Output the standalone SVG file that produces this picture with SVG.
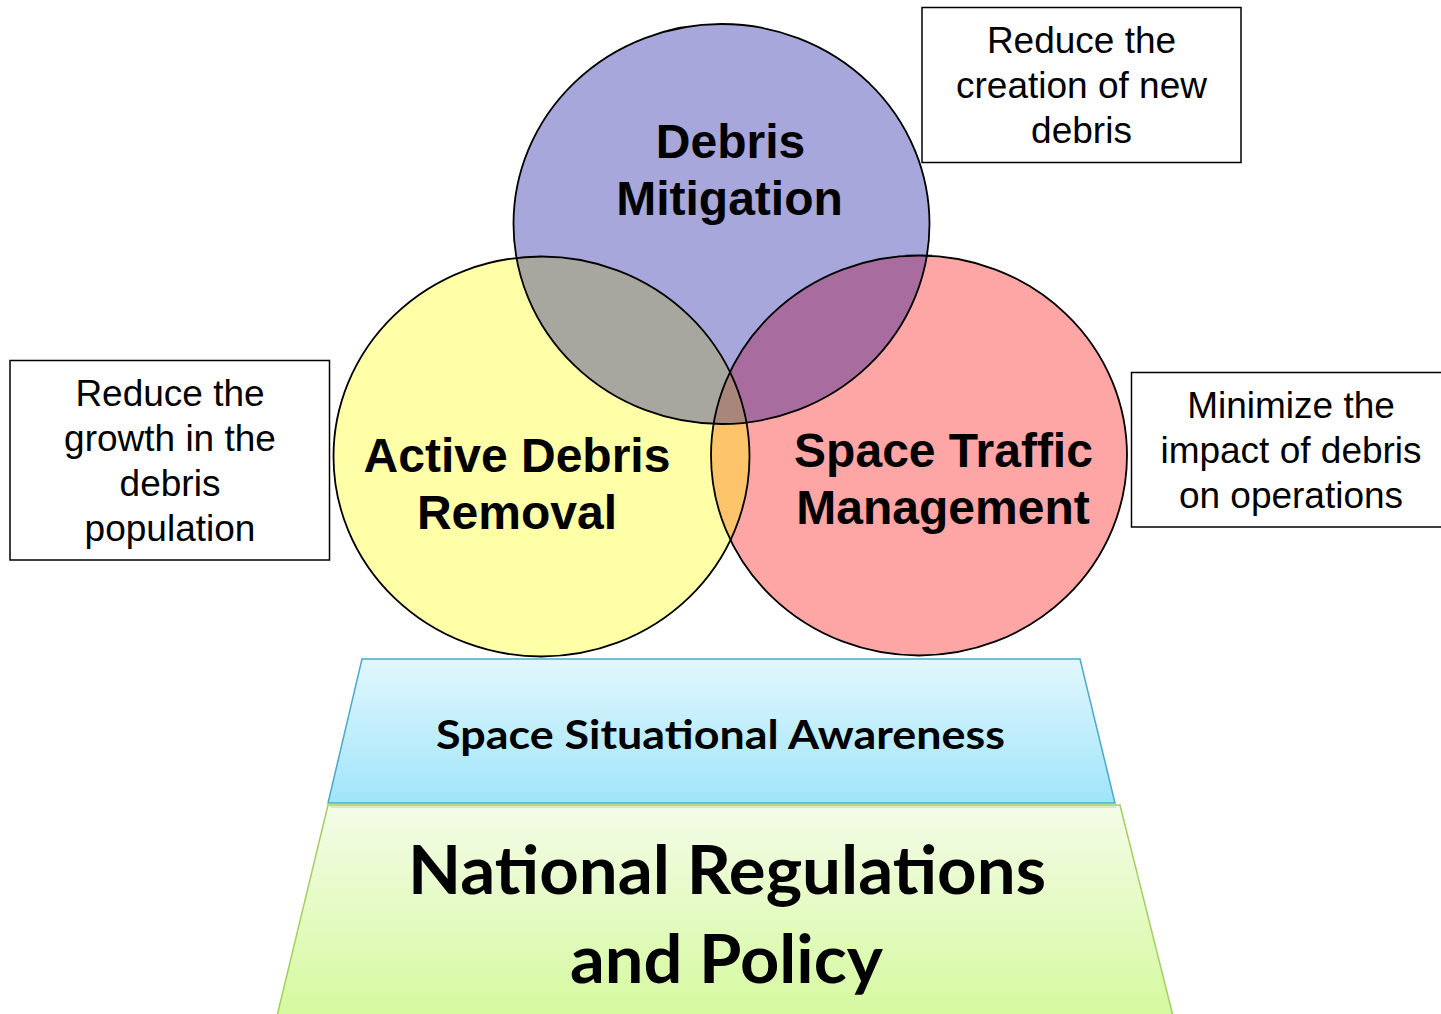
<svg xmlns="http://www.w3.org/2000/svg" width="1441" height="1014" viewBox="0 0 1441 1014">
  <style>
    .outline { fill: none; stroke: #000; stroke-width: 1.8; }
    .ctext { font-family: "Liberation Sans", Arial, sans-serif; font-weight: bold; font-size: 48px; fill: #000; text-anchor: middle; }
    .btext { font-family: "Liberation Sans", Arial, sans-serif; font-size: 37px; fill: #000; text-anchor: middle; }
    .box { fill: #fff; stroke: #000; stroke-width: 1.5; }
    .ptext { font-family: Lato, "Open Sans", sans-serif; font-weight: bold; fill: #000; text-anchor: middle; }
  </style>
  <defs>
    <clipPath id="clipBlue"><ellipse cx="721.5" cy="224" rx="208" ry="200"/></clipPath>
    <clipPath id="clipRed"><ellipse cx="919" cy="455.5" rx="208" ry="200"/></clipPath>
    <linearGradient id="gBlue" x1="0" y1="0" x2="0" y2="1">
      <stop offset="0" stop-color="#e2f7fd"/>
      <stop offset="1" stop-color="#a0e5fb"/>
    </linearGradient>
    <linearGradient id="gGreen" x1="0" y1="0" x2="0" y2="1">
      <stop offset="0" stop-color="#f4fce8"/>
      <stop offset="1" stop-color="#d5f99e"/>
    </linearGradient>
  </defs>
  <rect width="1441" height="1014" fill="#fff"/>

  <!-- Base trapezoids -->
  <g id="national-regulations">
    <polygon points="328,805 1120,805 1173,1016 277,1016" fill="url(#gGreen)" stroke="#a3cf5e" stroke-width="1.5"/>
    <text class="ptext" x="727" y="894" font-size="67" textLength="638" lengthAdjust="spacingAndGlyphs">National Regulations</text>
    <text class="ptext" x="726.5" y="983" font-size="67" textLength="313" lengthAdjust="spacingAndGlyphs">and Policy</text>
  </g>
  <g id="space-situational-awareness">
    <polygon points="330,806 1117,806 1116,808 331,808" fill="#c8d8c0" opacity="0.6"/>
    <polygon points="362,659 1080,659 1115,803 328,803" fill="url(#gBlue)" stroke="#4aaac8" stroke-width="1.5"/>
    <text class="ptext" x="720.5" y="749" font-size="40" textLength="569" lengthAdjust="spacingAndGlyphs">Space Situational Awareness</text>
  </g>

  <!-- Venn circles -->
  <g id="venn-fills">
    <ellipse cx="541.5" cy="456.5" rx="208" ry="200" fill="#ffffa7"/>
    <ellipse cx="919" cy="455.5" rx="208" ry="200" fill="#fea6a6"/>
    <ellipse cx="721.5" cy="224" rx="208" ry="200" fill="#a7a7db"/>
    <ellipse cx="541.5" cy="456.5" rx="208" ry="200" fill="#a7a7a0" clip-path="url(#clipBlue)"/>
    <ellipse cx="919" cy="455.5" rx="208" ry="200" fill="#a86c9f" clip-path="url(#clipBlue)"/>
    <ellipse cx="541.5" cy="456.5" rx="208" ry="200" fill="#fdc46c" clip-path="url(#clipRed)"/>
    <g clip-path="url(#clipBlue)">
      <ellipse cx="541.5" cy="456.5" rx="208" ry="200" fill="#a8867b" clip-path="url(#clipRed)"/>
    </g>
  </g>

  <g id="active-debris-removal">
    <ellipse class="outline" cx="541.5" cy="456.5" rx="208" ry="200"/>
    <text class="ctext" x="517" y="472">Active Debris</text>
    <text class="ctext" x="517" y="529">Removal</text>
  </g>
  <g id="space-traffic-management">
    <ellipse class="outline" cx="919" cy="455.5" rx="208" ry="200"/>
    <text class="ctext" x="943.5" y="467">Space Traffic</text>
    <text class="ctext" x="943" y="524">Management</text>
  </g>
  <g id="debris-mitigation">
    <ellipse class="outline" cx="721.5" cy="224" rx="208" ry="200"/>
    <text class="ctext" x="730.5" y="158">Debris</text>
    <text class="ctext" x="729.5" y="215">Mitigation</text>
  </g>

  <!-- Text boxes -->
  <g id="box-mitigation">
    <rect class="box" x="922" y="7.5" width="319" height="155"/>
    <text class="btext" x="1081.5" y="53">Reduce the</text>
    <text class="btext" x="1081.5" y="98">creation of new</text>
    <text class="btext" x="1081.5" y="143">debris</text>
  </g>
  <g id="box-removal">
    <rect class="box" x="10" y="360.5" width="319.5" height="199.5"/>
    <text class="btext" x="170" y="406">Reduce the</text>
    <text class="btext" x="170" y="451">growth in the</text>
    <text class="btext" x="170" y="496">debris</text>
    <text class="btext" x="170" y="541">population</text>
  </g>
  <g id="box-traffic">
    <rect class="box" x="1131.5" y="372.5" width="320" height="154.5"/>
    <text class="btext" x="1291" y="418">Minimize the</text>
    <text class="btext" x="1291" y="463">impact of debris</text>
    <text class="btext" x="1291" y="508">on operations</text>
  </g>

  <g id="connectors"/>
</svg>
